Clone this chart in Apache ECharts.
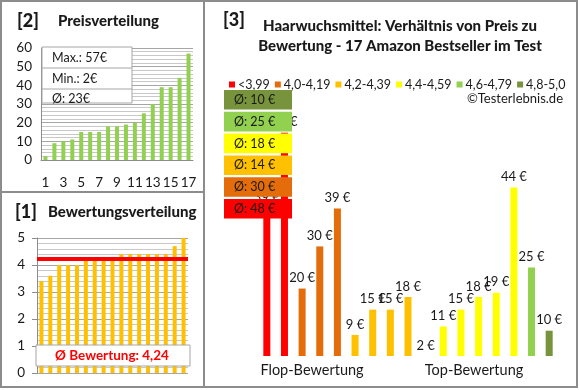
<!DOCTYPE html>
<html><head><meta charset="utf-8">
<script src="https://cdn.jsdelivr.net/npm/echarts@6/dist/echarts.min.js"></script>
<style>html,body{margin:0;padding:0;background:#fff}#c{width:580px;height:390px}</style>
</head><body><div id="c"></div>
<script>
// ---- data ----
const priceCats = ['1','2','3','4','5','6','7','8','9','10','11','12','13','14','15','16','17'];
const prices = [2,9,10,11,15,15,15,18,18,19,20,25,30,39,39,44,57];
const priceStats = ['Max.: 57€','Min.: 2€','Ø: 23€'];
const ratings = [3.4,3.6,4.0,4.0,4.0,4.2,4.2,4.3,4.3,4.4,4.4,4.4,4.4,4.4,4.4,4.7,5.0];
const ratingAvg = 4.24;
const ratingAvgText = 'Ø Bewertung: 4,24';
const groupNames = ['<3,99','4,0-4,19','4,2-4,39','4,4-4,59','4,6-4,79','4,8-5,0'];
const groupColors = ['#ff0000','#e46c0a','#ffc000','#ffff00','#92d050','#77933c'];
const groupPrices = [[39,57],[20,30,39],[9,15,15,18],[2,11,15,18,19,44],[25],[10]];
const groupAvg = [48,30,14,18,25,10];
const sideLabels = ['Flop-Bewertung','Top-Bewertung'];
const titles = ['[2]','Preisverteilung','[1]','Bewertungsverteilung','[3]','Haarwuchsmittel: Verhältnis von Preis zu\nBewertung - 17 Amazon Bestseller im Test','©Testerlebnis.de'];

const FONT = 'Lato';
const TXT = '#1a1a1a';
const GRID = '#a6a6a6';
const MINOR = '#c8c8c8';
const RIGHT_MIN = 4;

// right-panel series built from groups
const total = groupPrices.reduce((a,g)=>a+g.length,0);
const rightCats = Array.from({length:total},(_,i)=>String(i+1));
let idx = 0;
const groupSeries = groupPrices.map((g,gi)=>{
  const data = new Array(total).fill('-');
  g.forEach(v=>{ data[idx++] = v; });
  return {
    name: groupNames[gi], type:'bar', xAxisIndex:2, yAxisIndex:2,
    data, barWidth:7, barGap:'-100%',
    itemStyle:{color:groupColors[gi]},
    label:{show:true, position:'top', distance:4, formatter:p=>p.value+' €',
      fontFamily:FONT, fontSize:13, color:TXT},
    labelLayout:{hideOverlap:false},
    z:2
  };
});

const chart = echarts.init(document.getElementById('c'), null, {renderer:'canvas'});

const graphics = [];
// borders
graphics.push({type:'rect', shape:{x:1,y:1,width:576,height:386}, style:{fill:null, stroke:'#8c8c8c', lineWidth:2}, z:200});
graphics.push({type:'line', shape:{x1:204,y1:1,x2:204,y2:387}, style:{stroke:'#8c8c8c', lineWidth:2}, z:200});
graphics.push({type:'line', shape:{x1:1,y1:192,x2:204,y2:192}, style:{stroke:'#8c8c8c', lineWidth:2}, z:200});
// titles
const tstyle = (t,x,y,fs,align)=>({type:'text', x, y, z:200, style:{text:t, fill:TXT, font:`900 ${fs}px ${FONT}`, textAlign:align||'left', textVerticalAlign:'middle'}});
graphics.push(tstyle(titles[0],17,21,18));
graphics.push(tstyle(titles[1],58,21,15));
graphics.push(tstyle(titles[2],15,212,18));
graphics.push(tstyle(titles[3],48,212,15));
graphics.push(tstyle(titles[4],223,20,18));
graphics.push({type:'text', x:400, y:36, z:200, style:{text:titles[5], fill:TXT, font:`900 15px ${FONT}`, textAlign:'center', textVerticalAlign:'middle', lineHeight:20}});
graphics.push({type:'text', x:563, y:99, z:200, style:{text:titles[6], fill:TXT, font:`13px ${FONT}`, textAlign:'right', textVerticalAlign:'middle'}});
// price stats box
graphics.push({type:'rect', shape:{x:42,y:47,width:90,height:56}, style:{fill:'#fff', stroke:'#a6a6a6', lineWidth:1}, z:100});
priceStats.forEach((s,i)=>{
  if(i>0) graphics.push({type:'line', shape:{x1:42,y1:47+i*21,x2:132,y2:47+i*21}, style:{stroke:'#a6a6a6',lineWidth:1}, z:101});
  graphics.push({type:'text', x:52, y:58+i*20.5, z:102, style:{text:s, fill:TXT, font:`12.5px ${FONT}`, textVerticalAlign:'middle'}});
});
// rating avg box
graphics.push({type:'rect', shape:{x:36,y:345,width:154,height:21}, style:{fill:'#fff', stroke:'#a6a6a6', lineWidth:1}, z:100});
graphics.push({type:'text', x:112, y:356, z:102, style:{text:ratingAvgText, fill:'#ff0000', font:`bold 13.5px ${FONT}`, textAlign:'center', textVerticalAlign:'middle'}});
// avg boxes (top: best group)
for(let k=0;k<groupAvg.length;k++){
  const gi = groupAvg.length-1-k;
  const y = 90 + k*21.8;
  graphics.push({type:'rect', shape:{x:224,y:y,width:68,height:19.6}, style:{fill:groupColors[gi]}, z:100});
  graphics.push({type:'text', x:234, y:y+10, z:102, style:{text:'Ø: '+groupAvg[gi]+' €', fill:TXT, font:`12.5px ${FONT}`, textVerticalAlign:'middle'}});
}
// side labels
graphics.push({type:'text', x:312, y:370, z:102, style:{text:sideLabels[0], fill:TXT, font:`14.5px ${FONT}`, textAlign:'center', textVerticalAlign:'middle'}});
graphics.push({type:'text', x:474, y:370, z:102, style:{text:sideLabels[1], fill:TXT, font:`14.5px ${FONT}`, textAlign:'center', textVerticalAlign:'middle'}});

const axisLbl = {fontFamily:FONT, fontSize:13.5, color:TXT};

chart.setOption({
  animation:false,
  textStyle:{fontFamily:FONT},
  grid:[
    {left:41, top:48, width:152, height:112},
    {left:37, top:238, width:151, height:135},
    {left:258, top:120, width:300, height:236}
  ],
  legend:{data:groupNames, left:224, top:73, icon:'rect', itemWidth:6, itemHeight:6, itemGap:5,
    textStyle:{fontFamily:FONT, fontSize:12.5, color:TXT, padding:[0,0,0,-2]}, selectedMode:false},
  xAxis:[
    {gridIndex:0, type:'category', data:priceCats, axisLine:{lineStyle:{color:'#8c8c8c'}}, axisTick:{show:false},
      axisLabel:Object.assign({interval:1, margin:16}, axisLbl)},
    {gridIndex:1, type:'category', data:ratings.map((_,i)=>String(i+1)), axisLine:{show:false}, axisTick:{show:false}, axisLabel:{show:false}},
    {gridIndex:2, type:'category', data:rightCats, axisLine:{show:false}, axisTick:{show:false}, axisLabel:{show:false}}
  ],
  yAxis:[
    {gridIndex:0, type:'value', min:0, max:60, interval:10, axisLine:{show:true, lineStyle:{color:'#8c8c8c'}}, axisTick:{show:false},
      axisLabel:Object.assign({margin:9}, axisLbl), splitLine:{lineStyle:{color:GRID}},
      minorTick:{show:false, splitNumber:5}, minorSplitLine:{show:true, lineStyle:{color:MINOR}}},
    {gridIndex:1, type:'value', min:0, max:5, interval:1, axisLine:{show:true, lineStyle:{color:'#8c8c8c'}}, axisTick:{show:true, length:5, lineStyle:{color:'#8c8c8c'}},
      axisLabel:Object.assign({margin:12}, axisLbl), splitLine:{lineStyle:{color:GRID}},
      minorTick:{show:false, splitNumber:5}, minorSplitLine:{show:true, lineStyle:{color:MINOR}}},
    {gridIndex:2, type:'value', min:RIGHT_MIN, max:60, startValue:RIGHT_MIN, show:false, splitLine:{show:false}}
  ],
  series:[
    {type:'bar', xAxisIndex:0, yAxisIndex:0, data:prices, barWidth:4, itemStyle:{color:'#92d050'}},
    {type:'bar', xAxisIndex:1, yAxisIndex:1, data:ratings, barWidth:4, itemStyle:{color:'#ffc000'},
      markLine:{silent:true, symbol:'none', label:{show:false}, lineStyle:{color:'#ff0000', width:4, type:'solid'}, data:[{yAxis:ratingAvg}]}},
    ...groupSeries
  ],
  graphic:graphics
});
</script></body></html>
